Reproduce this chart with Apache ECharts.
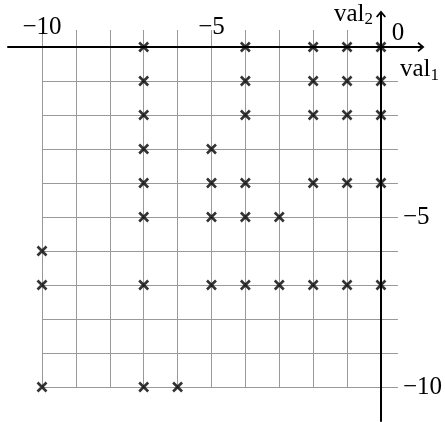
<!DOCTYPE html>
<html lang="en">

<head>
  <meta charset="UTF-8">
  <title>echarts</title>
  <script src="https://cdn.jsdelivr.net/npm/echarts@6.0.0/dist/echarts.min.js"></script>
  <style>
    html,
    body {
      padding: 0;
      margin: 0;
      background: #fff;
    }

    #chart {
      height: 422px;
      width: 445px;
    }
  </style>
</head>

<body>
  <div id="chart"></div>
  <script>
    // points (val1, val2)
    const val1 = [
      -7, -4, -2, -1, 0,
      -7, -4, -2, -1, 0,
      -7, -4, -2, -1, 0,
      -7, -5,
      -7, -5, -4, -2, -1, 0,
      -7, -5, -4, -3,
      -10,
      -10, -7, -5, -4, -3, -2, -1, 0,
      -10, -7, -6
    ]
    const val2 = [
      0, 0, 0, 0, 0,
      -1, -1, -1, -1, -1,
      -2, -2, -2, -2, -2,
      -3, -3,
      -4, -4, -4, -4, -4, -4,
      -5, -5, -5, -5,
      -6,
      -7, -7, -7, -7, -7, -7, -7, -7,
      -10, -10, -10
    ]
    const xTickLabels = [-10, -5, 0]
    const yTickLabels = [-5, -10]

    const font = 'Liberation Serif'
    const minus = v => (v < 0 ? '\u2212' + Math.abs(v) : String(v))
    const arrow = 'path://M5,0L10,6L8.6,7L5,2.8L1.4,7L0,6Z'
    const nameRich = {
      v: { fontFamily: font, fontSize: 25, color: '#000' },
      s: { fontFamily: font, fontSize: 17, color: '#000', padding: [12, 0, 0, 0] }
    }

    const chart = echarts.init(document.getElementById('chart'))
    chart.setOption({
      animation: false,
      grid: [
        { left: 42, right: 47, top: 30, bottom: 35 }, // grid lines + points
        { left: 8, right: 24, top: 14, bottom: 1 } // axis lines with arrows
      ],
      xAxis: [{
        type: 'value',
        gridIndex: 0,
        min: -10,
        max: 0.5,
        interval: 1,
        position: 'top',
        axisLine: { show: false },
        axisTick: { show: false },
        splitLine: { showMaxLine: false, lineStyle: { color: '#999', width: 1 } },
        axisLabel: {
          margin: -10,
          fontFamily: font,
          fontSize: 25,
          color: '#000',
          formatter: v => xTickLabels.includes(v) ? (v === 0 ? '{z|0}' : minus(v)) : '',
          rich: { z: { fontFamily: font, fontSize: 25, color: '#000', padding: [0, 0, 0, 34], lineHeight: 13 } }
        }
      }, {
        type: 'value',
        gridIndex: 1,
        min: -11,
        max: 1.18,
        axisLine: {
          onZero: true,
          symbol: ['none', arrow],
          symbolSize: [10, 8],
          lineStyle: { color: '#000', width: 2 }
        },
        axisTick: { show: false },
        axisLabel: { show: false },
        splitLine: { show: false },
        name: '{v|val}{s|1}',
        nameLocation: 'end',
        nameGap: -21,
        nameTextStyle: { align: 'left', verticalAlign: 'top', padding: [8, 0, 0, 0], rich: nameRich }
      }],
      yAxis: [{
        type: 'value',
        gridIndex: 0,
        min: -10,
        max: 0.5,
        interval: 1,
        position: 'right',
        axisLine: { show: false },
        axisTick: { show: false },
        splitLine: { showMaxLine: false, lineStyle: { color: '#999', width: 1 } },
        axisLabel: {
          margin: 5,
          fontFamily: font,
          fontSize: 25,
          color: '#000',
          formatter: v => yTickLabels.includes(v) ? minus(v) : ''
        }
      }, {
        type: 'value',
        gridIndex: 1,
        min: -11,
        max: 0.97,
        axisLine: {
          onZero: true,
          symbol: ['none', arrow],
          symbolSize: [10, 8],
          lineStyle: { color: '#000', width: 2 }
        },
        axisTick: { show: false },
        axisLabel: { show: false },
        splitLine: { show: false },
        name: '{v|val}{s|2}',
        nameLocation: 'end',
        nameGap: 0,
        nameTextStyle: { align: 'right', verticalAlign: 'middle', padding: [0, 8, 0, 0], rich: nameRich }
      }],
      series: [{
        type: 'scatter',
        xAxisIndex: 0,
        yAxisIndex: 0,
        clip: false,
        silent: true,
        symbol: 'path://M0,0L10,10M10,0L0,10',
        symbolSize: 9,
        itemStyle: { color: 'none', borderColor: '#000', borderWidth: 2.6 },
        data: val1.map((x, i) => [x, val2[i]])
      }]
    })
  </script>
</body>

</html>
